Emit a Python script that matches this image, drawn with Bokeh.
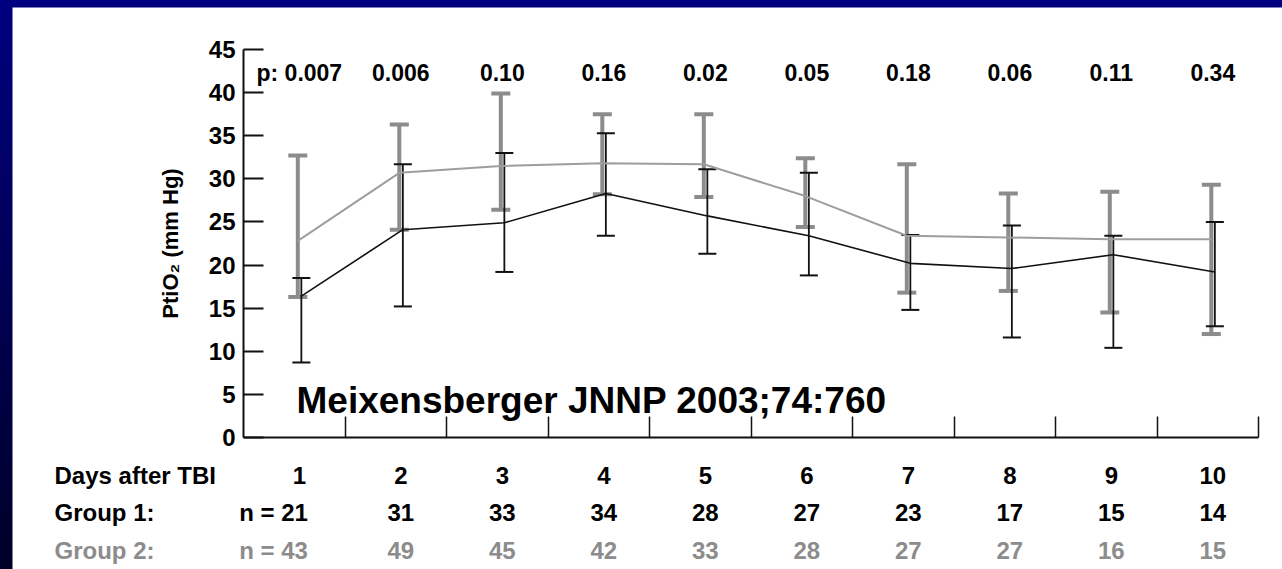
from bokeh.plotting import figure
from bokeh.models import (Range1d, FixedTicker, ColumnDataSource, Whisker, TeeHead, Label,
                          LinearAxis)
from bokeh.layouts import column
from bokeh.core.properties import value
from bokeh.embed import file_html
from bokeh.resources import INLINE

# ---------------- data ----------------
days = [1, 2, 3, 4, 5, 6, 7, 8, 9, 10]
p_values = ["0.007", "0.006", "0.10", "0.16", "0.02", "0.05", "0.18", "0.06", "0.11", "0.34"]

g1_mean = [16.4, 24.1, 24.9, 28.3, 25.7, 23.4, 20.2, 19.6, 21.2, 19.2]
g1_upper = [18.5, 31.7, 33.0, 35.3, 31.1, 30.7, 23.5, 24.6, 23.4, 25.0]
g1_lower = [8.7, 15.2, 19.2, 23.4, 21.3, 18.8, 14.8, 11.6, 10.4, 12.9]

g2_mean = [22.8, 30.7, 31.5, 31.8, 31.7, 28.0, 23.4, 23.2, 23.0, 23.0]
g2_upper = [32.7, 36.3, 39.9, 37.5, 37.5, 32.4, 31.7, 28.3, 28.5, 29.3]
g2_lower = [16.3, 24.1, 26.4, 28.2, 27.9, 24.4, 16.8, 17.0, 14.5, 12.0]

g1_n = [21, 31, 33, 34, 28, 27, 23, 17, 15, 14]
g2_n = [43, 49, 45, 42, 33, 28, 27, 27, 16, 15]

row_headers = ["Days after TBI", "Group 1:", "Group 2:"]
y_ticks = [0, 5, 10, 15, 20, 25, 30, 35, 40, 45]
x_bounds = [1.5, 2.5, 3.5, 4.5, 5.5, 6.5, 7.5, 8.5, 9.5, 10.5]

FONT = "Liberation Sans"
GRAY = "#8c8c8c"
DARK = "#111111"

# pixel geometry of the axes box inside the 1270x562 canvas
PX_X = 101.5          # pixels per day
PX_Y = 388 / 45.0     # pixels per mm Hg
LEFT, RIGHT, TOP, BOTTOM = 231, 24, 42, 132

p = figure(width=1270, height=562, output_backend="svg", toolbar_location=None,
           x_range=Range1d(0.5 - LEFT / PX_X, 10.5 + RIGHT / PX_X),
           y_range=Range1d(-BOTTOM / PX_Y, 45 + TOP / PX_Y),
           x_axis_location=None, y_axis_location=None,
           min_border_left=0, min_border_right=0, min_border_top=0, min_border_bottom=0)
p.margin = (7, 0, 0, 12)
p.background_fill_color = "white"
p.border_fill_color = "white"
p.outline_line_color = None
p.grid.visible = False

# y axis (fixed at the left end of the day scale)
ya = LinearAxis(fixed_location=0.5, bounds=(0, 45), ticker=FixedTicker(ticks=y_ticks))
ya.major_tick_in = 20
ya.major_tick_out = 0
ya.minor_tick_line_color = None
ya.axis_line_width = 2
ya.axis_line_color = DARK
ya.major_tick_line_width = 2
ya.major_tick_line_color = DARK
ya.major_label_standoff = 8
ya.major_label_text_font = FONT
ya.major_label_text_font_style = "bold"
ya.major_label_text_font_size = "24px"
ya.major_label_text_color = "black"
ya.axis_label = "PtiO\u2082 (mm Hg)"
ya.axis_label_text_font = FONT
ya.axis_label_text_font_style = "bold"
ya.axis_label_text_font_size = "22px"
ya.axis_label_text_color = "black"
ya.axis_label_standoff = 23
p.add_layout(ya, "left")

# x axis (fixed at 0 mm Hg)
xa = LinearAxis(fixed_location=0, bounds=(0.5, 10.5), ticker=FixedTicker(ticks=x_bounds),
                major_label_overrides={t: "" for t in x_bounds})
xa.major_label_standoff = 0
xa.major_label_text_font_size = "1px"
xa.major_tick_in = 21
xa.major_tick_out = 0
xa.minor_tick_line_color = None
xa.axis_line_width = 2
xa.axis_line_color = DARK
xa.major_tick_line_width = 1.5
xa.major_tick_line_color = DARK
p.add_layout(xa, "below")

# ---------------- series ----------------
g2_x = [d + 0.035 for d in days]
g1_x = [d + 0.07 for d in days]
src2 = ColumnDataSource(dict(x=g2_x, m=g2_mean, up=g2_upper, lo=g2_lower))
src1 = ColumnDataSource(dict(x=g1_x, m=g1_mean, up=g1_upper, lo=g1_lower))

p.line("x", "m", source=src2, line_color="#9e9e9e", line_width=2)
p.line("x", "m", source=src1, line_color=DARK, line_width=1.6)

p.add_layout(Whisker(base="x", upper="up", lower="lo", source=src2, dimension="height",
                     line_color=GRAY, line_width=4,
                     upper_head=TeeHead(size=19, line_color=GRAY, line_width=4),
                     lower_head=TeeHead(size=19, line_color=GRAY, line_width=4)))
p.add_layout(Whisker(base="x", upper="up", lower="lo", source=src1, dimension="height",
                     line_color=DARK, line_width=1.8,
                     upper_head=TeeHead(size=18, line_color=DARK, line_width=2),
                     lower_head=TeeHead(size=18, line_color=DARK, line_width=2)))

p_text = ["p: " + p_values[0]] + p_values[1:]
p.text(x=[d + 0.05 for d in days], y=[42.3] * len(days), text=p_text,
       text_align="center", text_baseline="middle", text_font=value(FONT),
       text_font_style="bold", text_font_size="23px", text_color="black")

p.add_layout(Label(x=1.022, y=4.3, text="Meixensberger JNNP 2003;74:760",
                   text_font=FONT, text_font_style="bold", text_font_size="37px",
                   text_color="black", text_baseline="alphabetic", text_align="left"))

# ---------------- table below the axis ----------------
row_y = [-38 / PX_Y, -75 / PX_Y, -113 / PX_Y]
row_col = ["black", "black", GRAY]
head_x = 0.5 - 189 / PX_X
tick_x = [d + 0.05 for d in days]
n_first_x = 0.796

TXT = dict(text_baseline="middle", text_font=value(FONT), text_font_style="bold",
           text_font_size="24px")

p.text(x=[head_x] * 3, y=row_y, text=row_headers, text_color=row_col,
       text_align="left", **TXT)
p.text(x=tick_x, y=[row_y[0]] * len(days), text=[str(d) for d in days],
       text_color="black", text_align="center", **TXT)

for vals, yy, col in [(g1_n, row_y[1], "black"), (g2_n, row_y[2], GRAY)]:
    p.text(x=tick_x[1:], y=[yy] * (len(vals) - 1), text=[str(v) for v in vals[1:]],
           text_color=col, text_align="center", **TXT)
    p.text(x=[n_first_x], y=[yy], text=["n = %d" % vals[0]], text_color=col,
           text_align="center", **TXT)

layout = column(p, styles={"background": "linear-gradient(#000080, #000028)"})

open("out.html", "w").write(file_html(layout, INLINE))
